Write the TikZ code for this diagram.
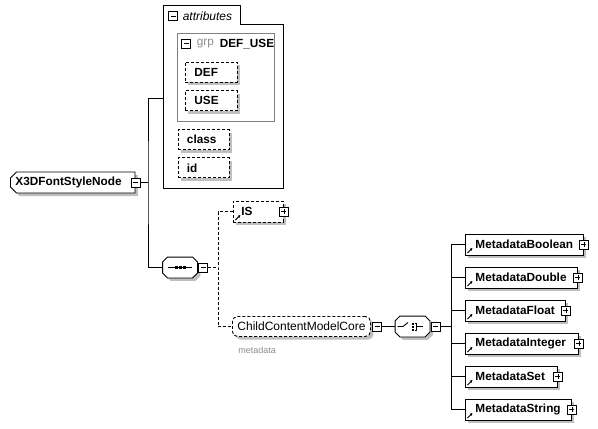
\documentclass[tikz,border=0pt]{standalone}
\usepackage{fontspec}
\setmainfont{Liberation Sans}
\usetikzlibrary{shapes.misc,shadows,arrows.meta,positioning}

\begin{document}
\begin{tikzpicture}[x=1pt, y=-1pt, line width=0.9pt,
        every node/.style={font=\fontsize{11.8pt}{13pt}\selectfont}]
    \tikzstyle{boxShadow} = [general shadow={fill=black!25, shadow xshift=3pt, shadow yshift=-3pt}]
    \tikzstyle{elemStyle} = [draw=black, fill=white, boxShadow, anchor=west, align=left,
        minimum height=21pt, inner ysep=0pt, font=\fontsize{11.8pt}{13pt}\selectfont\bfseries]
    \tikzstyle{optStyle} = [elemStyle, dash pattern=on 3pt off 2pt, minimum height=20pt]
    \tikzstyle{refStyle} = [elemStyle, inner xsep=10pt, path picture={
        \draw[solid, line width=1pt, -{Triangle[length=2.6pt, width=2.6pt]}]
            ([shift={(2pt,2pt)}]path picture bounding box.south west) -- ++(5pt,5pt);}]
    \tikzstyle{octStyle} = [minimum width=34pt, minimum height=20pt, inner sep=0pt]
    \tikzstyle{octPath} = [draw=black, fill=white, boxShadow]
    \tikzstyle{expBox} = [draw=black, fill=white, rectangle, minimum size=9pt,
        inner sep=0pt, line width=0.8pt]
    \tikzstyle{minusBox} = [expBox, path picture={\draw[line width=0.8pt]
        ([xshift=2pt]path picture bounding box.west) -- ([xshift=-2pt]path picture bounding box.east);}]
    \tikzstyle{plusBox} = [expBox, path picture={\draw[line width=0.8pt]
        ([xshift=2pt]path picture bounding box.west) -- ([xshift=-2pt]path picture bounding box.east)
        ([yshift=2pt]path picture bounding box.south) -- ([yshift=-2pt]path picture bounding box.north);}]
    \tikzstyle{dashLine} = [dash pattern=on 3pt off 2pt]
    \tikzstyle{grayText} = [text=black!45]
    \useasboundingbox (0,0) rectangle (598,429);

    % attributes
    \draw (163,5) -- (240,5) -- (240,24) -- (283,24) -- (283,188) -- (163,188) -- cycle;
    \node[minusBox] (attrExp) at (173.3,16.2) {};
    \node[anchor=west, font=\fontsize{12pt}{13pt}\selectfont\itshape] (attrLbl) at (179,16.2) {attributes};
    \node[draw=black!50, minimum width=97pt, minimum height=88pt, anchor=north west,
        inner sep=0pt] (grp) at (177,33) {};
    \node[minusBox] (grpExp) at (186.2,43.8) {};
    \node[grayText, anchor=west] (grpLbl) at (193,43.8) {grp};
    \node[anchor=west, font=\fontsize{11.8pt}{13pt}\selectfont\bfseries] (grpName) at (216,43.8) {DEF\_USE};
    \node[optStyle, inner xsep=9pt, text width=34pt] (def) at (185,72) {DEF};
    \node[optStyle, inner xsep=9pt, text width=34pt, below=8pt of def] (use) {USE};
    \node[optStyle, inner xsep=8.5pt, text width=34pt] (class) at (178,139.5) {class};
    \node[optStyle, inner xsep=8.5pt, text width=34pt, below=7.5pt of class] (id) {id};
    \coordinate (attrs) at (163,98);

    % root and compositors
    \node[elemStyle, chamfered rectangle, chamfered rectangle corners={north west,south west},
        chamfered rectangle xsep=3pt, chamfered rectangle ysep=3pt, inner xsep=2pt,
        minimum width=124.5pt, text width=114.5pt] (root) at (10,182.5) {X3DFontStyleNode};
    \node[minusBox] (rootExp) at (root.east) {};
    \node[octStyle] (seq) at (180,267.5) {};
    \node[octStyle] (choice) at (412.5,326.5) {};
    \foreach \n in {seq,choice}
        \path[octPath] ([xshift=5pt]\n.north west) -- ([xshift=-5pt]\n.north east)
            -- ([yshift=-5pt]\n.north east) -- ([yshift=5pt]\n.south east)
            -- ([xshift=-5pt]\n.south east) -- ([xshift=5pt]\n.south west)
            -- ([yshift=5pt]\n.south west) -- ([yshift=-5pt]\n.north west) -- cycle;
    \draw ([xshift=-12pt]seq.center) -- ([xshift=12pt]seq.center);
    \foreach \dx in {-4,0,4}
        \fill ([xshift=\dx pt]seq.center) ++(-1.5,-1.5) rectangle ++(3,3);
    \node[minusBox, right=1pt of seq] (seqExp) {};
    \coordinate (busA) at (148,182.5);
    \draw (rootExp.east) -- (busA);
    \draw (attrs) -| (busA) |- (seq.west);

    % IS and ChildContentModelCore
    \node[refStyle, dash pattern=on 3pt off 2pt, inner xsep=8pt, text width=34pt] (isNode) at (233,211.5) {IS};
    \node[plusBox] (isExp) at (isNode.east) {};
    \node[optStyle, rounded corners=5pt, inner xsep=5pt, text width=128pt,
        font=\fontsize{12pt}{13pt}\selectfont] (ccmc) at (232,326.5) {ChildContentModelCore};
    \node[minusBox, right=1.5pt of ccmc] (ccmcExp) {};
    \node[grayText, anchor=west, inner sep=0pt, font=\fontsize{9pt}{10pt}\selectfont] (ccmcNote) at (238,350) {metadata};
    \coordinate (busB) at (218,267.5);
    \draw[dashLine] (seqExp.east) -- (busB);
    \draw[dashLine] (isNode.west) -| (busB) |- (ccmc.west);

    % choice
    \begin{scope}[shift={(choice.center)}]
        \draw (-15,0) -- (-9.5,0) -- (-4.5,-4);
        \foreach \dy in {-3,0,3}
            \fill (-1,{\dy-1}) rectangle (1,{\dy+1});
        \draw (2,-3.5) -- (4,-3.5) -- (4,3.5) -- (2,3.5) (4,0) -- (10.5,0);
    \end{scope}
    \node[minusBox, right=1pt of choice] (choiceExp) {};
    \draw (ccmcExp.east) -- (choice.west);
    \coordinate (busC) at (451,326.5);
    \draw (choiceExp.east) -- (busC);
    \foreach \kind/\w [count=\i] in {Boolean/98,Double/92,Float/80,Integer/93,Set/72,String/86} {
        \node[refStyle, text width=\w pt] (meta\i) at (465,{211.5+33*\i}) {Metadata\kind};
        \node[plusBox] (metaExp\i) at (meta\i.east) {};
        \draw (busC) |- (meta\i.west);
    }
\end{tikzpicture}
\end{document}
